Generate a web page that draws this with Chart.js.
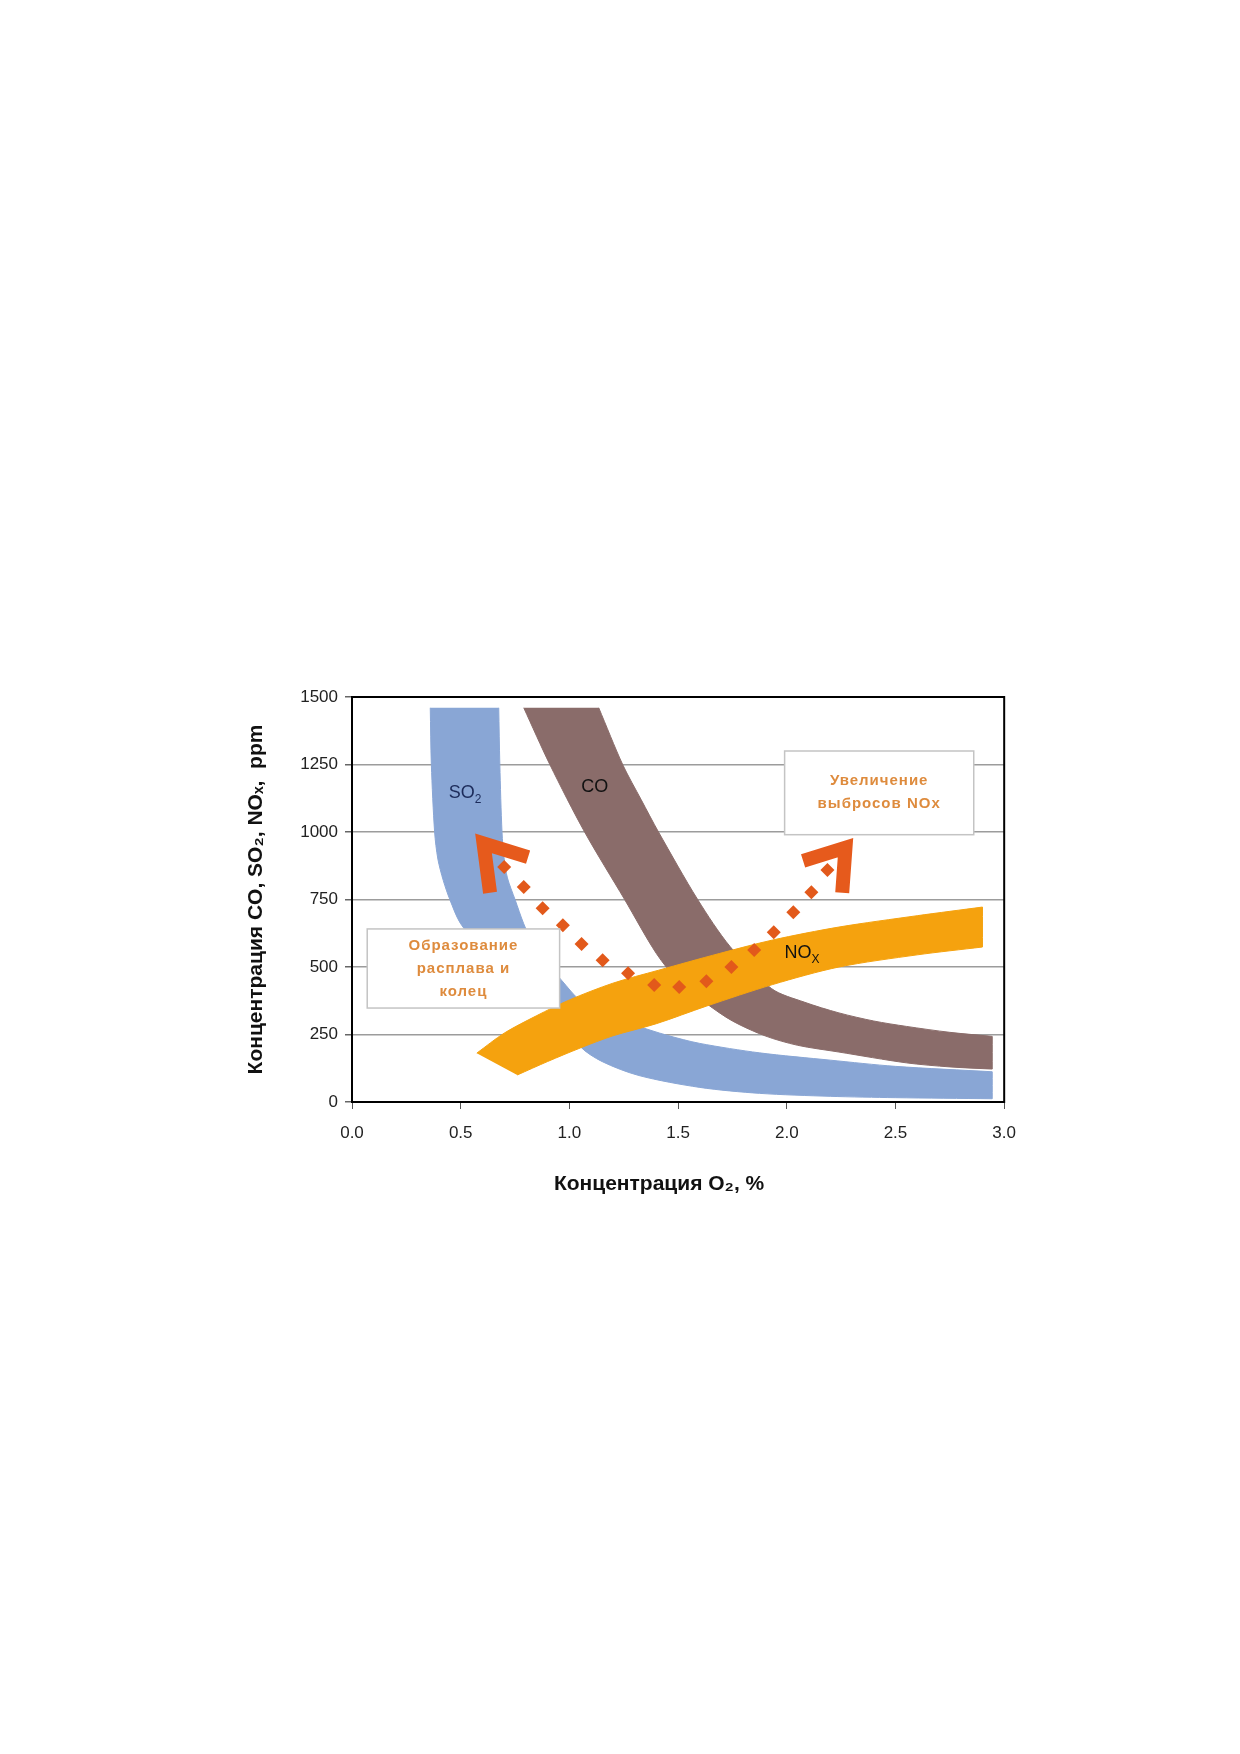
<!DOCTYPE html>
<html>
<head>
<meta charset="utf-8">
<script src="https://cdn.jsdelivr.net/npm/chart.js@4.4.1/dist/chart.umd.min.js"></script>
<style>
  html, body { margin: 0; padding: 0; background: #fff; }
  #wrap { position: absolute; left: 230px; top: 670px; width: 800px; height: 540px; }
</style>
</head>
<body>
<div id="wrap"><canvas id="chart"></canvas></div>
<script>
// ticks
const xTickValues = [0, 0.5, 1.0, 1.5, 2.0, 2.5, 3.0];
const yTickValues = [0, 250, 500, 750, 1000, 1250, 1500];

// band edges: [O2 %, ppm]
const so2Outer = [[0.675, 1460], [0.68, 1250], [0.69, 1000], [0.70, 900], [0.715, 830], [0.75, 750], [0.79, 660], [0.83, 590], [0.87, 540], [0.965, 450], [1.05, 375], [1.15, 328], [1.3, 285], [1.45, 247], [1.6, 217], [1.875, 182], [2.2, 155], [2.5, 132], [2.945, 112]];
const so2Inner = [[0.36, 1460], [0.365, 1250], [0.38, 1000], [0.395, 900], [0.42, 820], [0.45, 750], [0.5, 660], [0.6, 565], [0.75, 465], [0.88, 380], [0.97, 300], [1.05, 205], [1.15, 150], [1.32, 98], [1.6, 54], [1.875, 32], [2.2, 21], [2.5, 16], [2.945, 12]];

const coOuter = [[1.135, 1460], [1.245, 1250], [1.33, 1120], [1.41, 1000], [1.59, 750], [1.74, 575], [1.93, 420], [2.08, 370], [2.24, 330], [2.4, 300], [2.55, 280], [2.75, 258], [2.945, 243]];
const coInner = [[0.79, 1460], [0.91, 1250], [1.07, 1000], [1.254, 750], [1.40, 550], [1.5, 450], [1.63, 365], [1.75, 300], [1.9, 245], [2.05, 210], [2.24, 185], [2.55, 145], [2.75, 130], [2.945, 122]];

const noxUpper = [[0.574, 181], [0.7, 255], [0.85, 320], [1.0, 378], [1.2, 440], [1.41, 488], [1.69, 550], [1.935, 600], [2.24, 648], [2.6, 690], [2.9, 722]];
const noxLower = [[0.76, 100], [0.9, 150], [1.05, 200], [1.2, 245], [1.4, 290], [1.63, 355], [1.935, 435], [2.24, 500], [2.6, 545], [2.9, 574]];

// dotted path and the two arrow heads
const dotsX = [0.70, 0.79, 0.877, 0.97, 1.056, 1.153, 1.27, 1.39, 1.505, 1.63, 1.745, 1.85, 1.94, 2.03, 2.113, 2.187];
const dotsY = [870, 796, 718, 655, 585, 525, 477, 433, 426, 447, 500, 563, 629, 703, 777, 859];
const arrowLeft = [[0.81, 907], [0.605, 958], [0.635, 775]];
const arrowRight = [[2.075, 893], [2.27, 942], [2.255, 775]];

const FONT = "'Liberation Sans', Arial, sans-serif";

function pts(arr) {
    return arr.map(p => ({x: p[0], y: p[1]}));
}
// closed outline: outer edge, then inner edge back; the two end corners are
// repeated so the spline keeps them square
function band(outer, inner) {
    const back = inner.slice().reverse();
    return pts(outer.concat([outer[outer.length - 1]], [back[0]], back));
}
function bandSet(data, color, order) {
    return {
        data: data, showLine: true, fill: 'shape', order: order,
        backgroundColor: color, borderColor: color, borderWidth: 1,
        pointRadius: 0, tension: 0.3
    };
}

// labels, text boxes, frame
const decor = {
    id: 'decor',
    afterDatasetsDraw(chart) {
        const {ctx, chartArea: a, scales: {x, y}} = chart;
        ctx.save();
        ctx.strokeStyle = '#000';
        ctx.lineWidth = 2;
        ctx.strokeRect(a.left, a.top, a.right - a.left, a.bottom - a.top);

        function sub(main, s, vx, vy, size, color) {
            ctx.fillStyle = color;
            ctx.textBaseline = 'middle';
            ctx.font = size + 'px ' + FONT;
            const w1 = ctx.measureText(main).width;
            ctx.font = Math.round(size * 0.65) + 'px ' + FONT;
            const w2 = s ? ctx.measureText(s).width : 0;
            const px = x.getPixelForValue(vx) - (w1 + w2) / 2;
            const py = y.getPixelForValue(vy);
            ctx.font = size + 'px ' + FONT;
            ctx.textAlign = 'left';
            ctx.fillText(main, px, py);
            if (s) {
                ctx.font = Math.round(size * 0.65) + 'px ' + FONT;
                ctx.fillText(s, px + w1, py + size * 0.35);
            }
        }
        sub('SO', '2', 0.52, 1143, 18, '#1c2b5a');
        sub('CO', '', 1.117, 1166, 18, '#111');
        sub('NO', 'X', 2.07, 551, 18, '#111');

        function box(x0, x1, y0, y1, lines) {
            const l = x.getPixelForValue(x0), r = x.getPixelForValue(x1);
            const t = y.getPixelForValue(y1), b = y.getPixelForValue(y0);
            ctx.fillStyle = '#fff';
            ctx.fillRect(l, t, r - l, b - t);
            ctx.strokeStyle = '#c4c4c4';
            ctx.lineWidth = 1.5;
            ctx.strokeRect(l, t, r - l, b - t);
            ctx.fillStyle = '#de8b3d';
            ctx.font = 'bold 15px ' + FONT;
            ctx.letterSpacing = '1px';
            ctx.textAlign = 'center';
            ctx.textBaseline = 'middle';
            const lh = 23;
            const cy = (t + b) / 2 - (lines.length - 1) * lh / 2;
            lines.forEach((s, i) => ctx.fillText(s, (l + r) / 2, cy + i * lh));
            ctx.letterSpacing = '0px';
        }
        box(0.07, 0.955, 348, 641, ['Образование', 'расплава и', 'колец']);
        box(1.99, 2.86, 990, 1300, ['Увеличение', 'выбросов NOx']);

        // x axis title
        ctx.fillStyle = '#111';
        ctx.font = 'bold 21px ' + FONT;
        ctx.textAlign = 'center';
        ctx.textBaseline = 'middle';
        ctx.fillText('Концентрация O₂, %', (a.left + a.right) / 2 - 19, a.bottom + 82);
        ctx.restore();
    }
};

new Chart(document.getElementById('chart'), {
    type: 'scatter',
    data: {
        datasets: [
            bandSet(band(so2Outer, so2Inner), '#89a6d5', 6),
            bandSet(band(coOuter, coInner), '#8a6c6a', 5),
            bandSet(band(noxUpper, noxLower), '#f5a20e', 4),
            {
                data: pts(arrowLeft), showLine: true, order: 3,
                borderColor: '#e65a1c', borderWidth: 14, borderJoinStyle: 'miter',
                borderCapStyle: 'butt', pointRadius: 0, fill: false
            },
            {
                data: pts(arrowRight), showLine: true, order: 2,
                borderColor: '#e65a1c', borderWidth: 14, borderJoinStyle: 'miter',
                borderCapStyle: 'butt', pointRadius: 0, fill: false
            },
            {
                data: dotsX.map((v, i) => ({x: v, y: dotsY[i]})), showLine: false, order: 1,
                pointStyle: 'rectRot', pointRadius: 7,
                backgroundColor: '#e2591b', borderColor: '#e2591b', borderWidth: 0
            }
        ]
    },
    options: {
        responsive: true,
        maintainAspectRatio: false,
        animation: false,
        events: [],
        layout: { padding: { top: 27, right: 23, left: 0, bottom: 0 } },
        scales: {
            x: {
                type: 'linear', min: 0, max: 3,
                afterBuildTicks: s => { s.ticks = xTickValues.map(v => ({value: v})); },
                afterFit: s => { s.height = 108; },
                grid: { drawOnChartArea: false, tickLength: 7, tickColor: '#555' },
                border: { color: '#000', width: 2 },
                ticks: {
                    padding: 14, color: '#222', font: { family: FONT, size: 17 },
                    callback: v => v.toFixed(1)
                }
            },
            y: {
                type: 'linear', min: 0, max: 1500,
                afterBuildTicks: s => { s.ticks = yTickValues.map(v => ({value: v})); },
                afterFit: s => { s.width = 122; },
                grid: { color: '#9c9c9c', lineWidth: 1.5, tickLength: 7, tickColor: '#666' },
                border: { color: '#000', width: 2 },
                ticks: {
                    padding: 7, color: '#222', font: { family: FONT, size: 17 },
                    callback: v => String(v)
                },
                title: {
                    display: true, text: 'Концентрация CO, SO₂, NOₓ,  ppm', color: '#111',
                    font: { family: FONT, size: 21, weight: 'bold', lineHeight: 1.2 },
                    padding: { top: 14, bottom: 0 }
                }
            }
        },
        plugins: {
            legend: { display: false },
            tooltip: { enabled: false }
        }
    },
    plugins: [decor]
});
</script>
</body>
</html>
